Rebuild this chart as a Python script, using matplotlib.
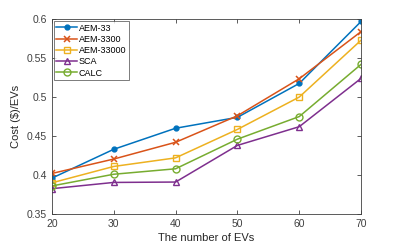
import matplotlib
matplotlib.use('Agg')
import matplotlib.pyplot as plt

plt.rcParams['font.family'] = ['Liberation Sans', 'DejaVu Sans']

# number of EVs
ev_counts = [20, 30, 40, 50, 60, 70]

# cost per EV for each method
aem_33 = [0.396, 0.433, 0.460, 0.474, 0.5175, 0.597]
aem_3300 = [0.402, 0.4205, 0.442, 0.476, 0.5235, 0.584]
aem_33000 = [0.390, 0.411, 0.422, 0.4585, 0.500, 0.573]
sca = [0.3825, 0.3905, 0.391, 0.438, 0.462, 0.524]
calc = [0.386, 0.401, 0.408, 0.446, 0.475, 0.542]

fig = plt.figure(figsize=(3.99, 2.45), dpi=100)
ax = fig.add_axes([0.130, 0.1265, 0.775, 0.7955])

ax.plot(ev_counts, aem_33, '-o', color='#0072BD', lw=1.1, ms=3.5, label='AEM-33')
ax.plot(ev_counts, aem_3300, '-x', color='#D95319', lw=1.1, ms=4, mew=1.1, label='AEM-3300')
ax.plot(ev_counts, aem_33000, '-s', color='#EDB120', lw=1.1, ms=4.5, mfc='none', label='AEM-33000')
ax.plot(ev_counts, sca, '-^', color='#7E2F8E', lw=1.1, ms=5, mfc='none', label='SCA')
ax.plot(ev_counts, calc, '-o', color='#77AC30', lw=1.1, ms=5, mfc='none', label='CALC')

ax.set_xlim(20, 70)
ax.set_ylim(0.35, 0.6)
ax.set_xticks([20, 30, 40, 50, 60, 70])
ax.set_yticks([0.35, 0.4, 0.45, 0.5, 0.55, 0.6])
ax.set_yticklabels(['0.35', '0.4', '0.45', '0.5', '0.55', '0.6'])
ax.tick_params(direction='in', top=True, right=True, labelsize=7.5, colors='#404040',
               length=3, width=0.6)
for s in ax.spines.values():
    s.set_color('#404040')
    s.set_linewidth(0.6)

ax.set_xlabel('The number of EVs', fontsize=8, color='#262626', labelpad=3)
ax.set_ylabel('Cost (\\$)/EVs', fontsize=8, color='#262626', labelpad=4)

leg = ax.legend(loc='upper left', fontsize=6.5, frameon=True, fancybox=False,
                handlelength=2.3, handletextpad=0.15, labelspacing=0.25,
                borderpad=0.3, borderaxespad=0.2)
leg.get_frame().set_edgecolor('#404040')
leg.get_frame().set_linewidth(0.6)

fig.savefig('out.png', dpi=100)
